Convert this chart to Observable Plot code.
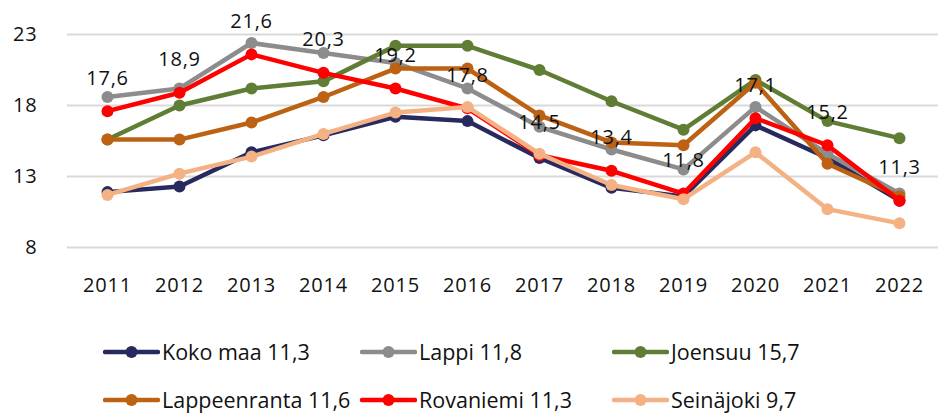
<!DOCTYPE html>
<html>
<head>
<meta charset="utf-8">
<script src="https://cdn.jsdelivr.net/npm/d3@7"></script>
<script src="https://cdn.jsdelivr.net/npm/@observablehq/plot@0.6"></script>
<style>
  body { margin: 0; background: #fff; font-family: "Open Sans", sans-serif; }
  #wrap { position: relative; width: 938px; height: 414px; }
  #legend { position: absolute; left: 0; top: 0; width: 938px; height: 414px; pointer-events: none; }
  .item { position: absolute; display: flex; align-items: center; height: 26px; line-height: 26px;
          white-space: nowrap; font-size: 21.5px; color: #111; }
  .item svg { display: block; margin-right: 2px; }
</style>
</head>
<body>
<div id="wrap"><div id="chart"></div><div id="legend"></div></div>
<script>
// ---- data ----
const years = [2011, 2012, 2013, 2014, 2015, 2016, 2017, 2018, 2019, 2020, 2021, 2022];
const seriesNames = ["Koko maa", "Lappi", "Joensuu", "Lappeenranta", "Rovaniemi", "Seinäjoki"];
const kokoMaa      = [11.9, 12.3, 14.7, 15.9, 17.2, 16.9, 14.3, 12.2, 11.6, 16.6, 14.3, 11.3];
const lappi        = [18.6, 19.2, 22.4, 21.7, 21.0, 19.2, 16.5, 14.9, 13.5, 17.9, 14.6, 11.8];
const joensuu      = [15.6, 18.0, 19.2, 19.7, 22.2, 22.2, 20.5, 18.3, 16.3, 19.8, 16.9, 15.7];
const lappeenranta = [15.6, 15.6, 16.8, 18.6, 20.6, 20.6, 17.3, 15.4, 15.2, 19.6, 13.9, 11.6];
const rovaniemi    = [17.6, 18.9, 21.6, 20.3, 19.2, 17.8, 14.5, 13.4, 11.8, 17.1, 15.2, 11.3];
const seinajoki    = [11.7, 13.2, 14.4, 16.0, 17.5, 17.9, 14.6, 12.4, 11.4, 14.7, 10.7, 9.7];
const yTicks = [8, 13, 18, 23];

// ---- styles ----
const seriesValues = [kokoMaa, lappi, joensuu, lappeenranta, rovaniemi, seinajoki];
const colors = ["#272a5e", "#8c8c8c", "#607d35", "#bd6113", "#ff0000", "#f4b183"];
const labelledSeries = 4; // Rovaniemi carries the data labels

const fmt = v => v.toFixed(1).replace(".", ",");
const rowsOf = i => years.map((year, j) => ({ year, value: seriesValues[i][j], series: seriesNames[i] }));

const marks = [
  Plot.gridY(yTicks, { stroke: "#d9d9d9", strokeOpacity: 1, strokeWidth: 2 }),
  Plot.axisY(yTicks, { tickSize: 0, tickPadding: 30, fontSize: 20 }),
  Plot.axisX({ tickSize: 0, tickPadding: 30, fontSize: 20, tickFormat: d => String(d) })
];
seriesNames.forEach((name, i) => {
  const rows = rowsOf(i);
  marks.push(Plot.line(rows, { x: "year", y: "value", stroke: colors[i], strokeWidth: 4.5,
                               strokeLinejoin: "round", strokeLinecap: "round" }));
  marks.push(Plot.dot(rows, { x: "year", y: "value", fill: colors[i], r: 6 }));
});
marks.push(Plot.text(rowsOf(labelledSeries), {
  x: "year", y: "value", text: d => fmt(d.value), dy: -33, fontSize: 20, fill: "#111"
}));

const chart = Plot.plot({
  width: 938,
  height: 320,
  marginLeft: 67,
  marginRight: 0,
  marginTop: 34,
  marginBottom: 73,
  x: { type: "point", domain: years, padding: 0.5, label: null },
  y: { domain: [8, 23], label: null },
  style: { fontFamily: "'Open Sans', sans-serif", fontSize: "20px", color: "#111",
           letterSpacing: "0.8px", background: "#fff", overflow: "visible" },
  marks
});
document.getElementById("chart").appendChild(chart);

// ---- legend (HTML, below the svg) ----
const legend = document.getElementById("legend");
const colX = [103, 360, 612];
const rowY = [352, 400];
seriesNames.forEach((name, i) => {
  const vals = seriesValues[i];
  const item = document.createElement("div");
  item.className = "item";
  item.style.left = colX[i % 3] + "px";
  item.style.top = (rowY[Math.floor(i / 3)] - 13) + "px";
  item.innerHTML =
    `<svg width="57" height="16"><line x1="2" y1="8" x2="55" y2="8" stroke="${colors[i]}" stroke-width="4.5" stroke-linecap="round"/>` +
    `<circle cx="28.5" cy="8" r="6" fill="${colors[i]}"/></svg>` +
    `<span>${name} ${fmt(vals[vals.length - 1])}</span>`;
  legend.appendChild(item);
});
</script>
</body>
</html>
